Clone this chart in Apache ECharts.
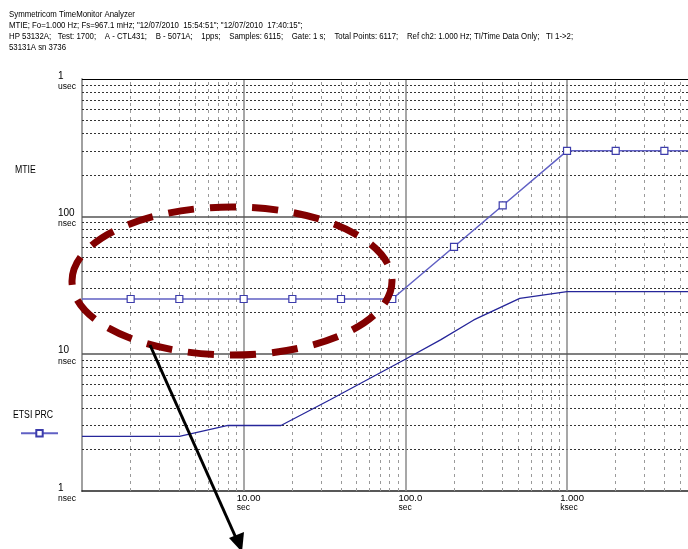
<!DOCTYPE html>
<html><head><meta charset="utf-8">
<script src="https://cdn.jsdelivr.net/npm/echarts@6/dist/echarts.min.js"></script>
<style>html,body{margin:0;padding:0;background:#fff}#c{width:688px;height:549px}</style>
</head><body><div id="c"></div>
<script>
// ---- data ----
const headerLines = [
  'Symmetricom TimeMonitor Analyzer',
  'MTIE; Fo=1.000 Hz; Fs=967.1 mHz; "12/07/2010  15:54:51"; "12/07/2010  17:40:15";',
  'HP 53132A;   Test: 1700;    A - CTL431;    B - 5071A;    1pps;    Samples: 6115;    Gate: 1 s;    Total Points: 6117;    Ref ch2: 1.000 Hz; TI/Time Data Only;   TI 1->2;',
  '53131A sn 3736'
];
const maskName = 'ETSI PRC';
const maskTau    = [1, 2, 4, 10, 20, 40, 83, 200, 400, 1000, 2000, 4000, 10000];
const maskMtie   = [25, 25, 25, 25, 25, 25, 25, 60, 120, 300, 300, 300, 300];
const maskMarked = [false, true, true, true, true, true, true, true, true, true, true, true, false];
const measTau  = [1, 4, 8, 17, 34, 100, 165, 265, 510, 1000, 10000];
const measMtie = [2.5, 2.5, 3, 3, 4.6, 9.1, 12.6, 17.6, 25.3, 28.3, 28.3];

const xMin = 1, xMax = 5600;   // visible tau range (right edge is cut off in the reference)
const yMin = 1, yMax = 1000;
const xLabelValues = [10, 100, 1000];
const xLabelNums   = ['10.00', '100.0', '1.000'];
const xLabelUnits  = ['sec', 'sec', 'ksec'];
const yLabelValues = [1, 10, 100, 1000];
const yLabelNums   = ['1', '10', '100', '1'];
const yLabelUnits  = ['nsec', 'nsec', 'nsec', 'usec'];

const xMajor = [10, 100, 1000];
const yMajor = [10, 100];
const yTop   = [1000];
const xMinor = [2,3,4,5,6,7,8,9, 20,30,40,50,60,70,80,90, 200,300,400,500,600,700,800,900, 2000,3000,4000,5000];
const yMinor = [2,3,4,5,6,7,8,9, 20,30,40,50,60,70,80,90, 200,300,400,500,600,700,800,900];

// ---- chart ----
const F = "'Liberation Sans Narrow','Liberation Sans',sans-serif";
function findIdx(arr, v){ for (let i=0;i<arr.length;i++){ if (Math.abs(v-arr[i]) < arr[i]*1e-6) return i; } return -1; }

const chart = echarts.init(document.getElementById('c'), null, {renderer:'canvas'});

function gridSeries(name, list, axisKey, style, z){
  return {
    name: name, type:'line', data: [], silent:true, z: z, symbol:'none',
    markLine: {
      silent: true, symbol: ['none','none'], animation:false,
      label: {show:false},
      lineStyle: style,
      emphasis: {disabled:true},
      data: list.map(v => ({[axisKey]: v}))
    }
  };
}

const SX = 0.87;
const header = headerLines.map((t,i) => ({
  type:'text', x: 9, y: 10 + i*11, scaleX: SX, z: 10,
  style: {text: t, font: '9px ' + F, fill:'#000'}
}));

const option = {
  animation: false,
  backgroundColor: '#fff',
  grid: {left: 82, top: 79, right: 0, bottom: 58, show: false},
  legend: {
    data: [maskName], left: 20, top: 429, itemWidth: 37, itemHeight: 8,
    formatter: () => '', selectedMode: false, padding: 0
  },
  xAxis: {
    type:'log', logBase:10, min: xMin, max: xMax,
    axisLine: {show:true, lineStyle:{color:'#222', width:1.5}},
    axisTick: {show:false}, splitLine: {show:false},
    axisLabel: {
      show:true, margin: 3, align:'center', verticalAlign:'top',
      showMinLabel: true, showMaxLabel: false,
      formatter: v => { const i = findIdx(xLabelValues, v); return i < 0 ? '' : '{s| }{a|' + xLabelNums[i] + '}\n{s| }{b|' + xLabelUnits[i] + '}'; },
      rich: {
        s: {width: 10, align:'left', fontSize: 9, lineHeight: 9},
        a: {fontFamily: F, fontSize: 9.5, color:'#000', align:'left', lineHeight: 9},
        b: {fontFamily: F, fontSize: 8.5, color:'#000', align:'left', lineHeight: 9}
      }
    }
  },
  yAxis: {
    type:'log', logBase:10, min: yMin, max: yMax,
    axisLine: {show:true, lineStyle:{color:'#a0a0a0', width:2}},
    axisTick: {show:false}, splitLine: {show:false},
    axisLabel: {
      show:true, margin: 24, align:'left', showMinLabel:true, showMaxLabel:true,
      formatter: v => { const i = findIdx(yLabelValues, v); return i < 0 ? '' : '{a|' + yLabelNums[i] + '}\n{b|' + yLabelUnits[i] + '}'; },
      rich: {
        a: {fontFamily: F, fontSize: 10, color:'#000', lineHeight: 15, align:'left'},
        b: {fontFamily: F, fontSize: 8.5, color:'#000', lineHeight: 6, align:'left'}
      }
    }
  },
  series: [
    gridSeries('vminor', xMinor, 'xAxis', {color:'#9a9a9a', width:1, type:[3,4]}, 1),
    gridSeries('hminor', yMinor, 'yAxis', {color:'#333', width:1, type:[2,2]}, 1),
    gridSeries('vmajor', xMajor, 'xAxis', {color:'#8a8a8a', width:1.5, type:'solid'}, 2),
    gridSeries('hmajor', yMajor, 'yAxis', {color:'#555', width:1.5, type:'solid'}, 2),
    gridSeries('htop', yTop, 'yAxis', {color:'#000', width:1, type:'solid'}, 2),
    {
      name: 'Measured', type:'line', z: 5, symbol:'none',
      lineStyle: {color:'#26269a', width:1.3},
      data: measTau.map((t,i) => [t, measMtie[i]])
    },
    {
      name: maskName, type:'line', z: 6, symbol:'rect', symbolSize: 7,
      lineStyle: {color:'#6060c4', width:1.5},
      itemStyle: {color:'#ffffff', borderColor:'#3c3cab', borderWidth:1.2},
      data: maskTau.map((t,i) => ({value:[t, maskMtie[i]], symbol: maskMarked[i] ? 'rect' : 'none'}))
    }
  ],
  graphic: header.concat([
    {type:'text', x: 15, y: 165, scaleX: SX, z: 10, style:{text:'MTIE', font:'10px ' + F, fill:'#000'}},
    {type:'text', x: 13, y: 410, scaleX: SX, z: 10, style:{text:'ETSI PRC', font:'10px ' + F, fill:'#000'}},
    {type:'ellipse', z: 20, shape:{cx: 232, cy: 281, rx: 160, ry: 74},
     style:{fill:'none', stroke:'#820000', lineWidth: 7, lineDash:[26,16]}},
    {type:'line', z: 20, shape:{x1: 150, y1: 345, x2: 236, y2: 538},
     style:{stroke:'#000', lineWidth: 3}},
    {type:'polygon', z: 20, shape:{points:[[242, 552],[229, 538],[244, 532]]},
     style:{fill:'#000'}}
  ])
};
chart.setOption(option);
</script>
</body></html>
